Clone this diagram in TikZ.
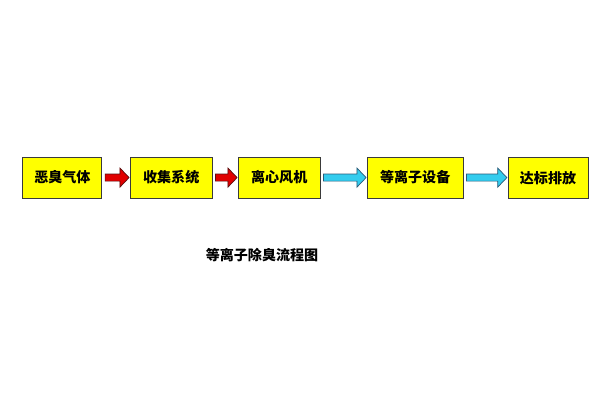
\documentclass[tikz,border=0pt]{standalone}
\usepackage{fontspec}
\usepackage{xcolor}
\usetikzlibrary{calc}
\newfontfamily\cjk{Noto Sans CJK SC}
\definecolor{FlowYellow}{HTML}{FFFF00}
\definecolor{FlowEdge}{HTML}{3A3A3A}
\definecolor{FlowRed}{HTML}{E00000}
\definecolor{FlowRedEdge}{HTML}{5A1010}
\definecolor{FlowCyan}{HTML}{33CCEE}
\definecolor{FlowCyanEdge}{HTML}{2A5A78}
\tikzset{
  stagebox/.style={draw=FlowEdge,line width=.6pt,fill=FlowYellow,minimum height=1.025cm,inner sep=0pt,font=\cjk\bfseries\fontsize{10}{12}\selectfont},
  redarrow/.style={draw=FlowRedEdge,fill=FlowRed,line width=.5pt,line join=miter},
  cyanarrow/.style={draw=FlowCyanEdge,fill=FlowCyan,line width=.5pt,line join=miter}
}
% block arrow from the east side of #1 to the west side of #2
\newcommand\flowarrow[3]{%
  \draw[#3] let \p1=(#1.east), \p2=(#2.west) in
    (\x1+2pt,\y1-2.5pt) -- (\x2-7pt,\y1-2.5pt) -- (\x2-7pt,\y1-6.8pt) -- (\x2-.5pt,\y1)
    -- (\x2-7pt,\y1+6.8pt) -- (\x2-7pt,\y1+2.5pt) -- (\x1+2pt,\y1+2.5pt) -- cycle;}

\begin{document}
\begin{tikzpicture}[x=1cm,y=1cm]
\path[use as bounding box] (0,0) rectangle (15.00,10.00);
\fill[white] (0,0) rectangle (15.00,10.00);
\node[stagebox,minimum width=1.975cm] (gas) at (1.56,5.56) {恶臭气体};
\node[stagebox,minimum width=2.05cm] (collect) at (4.28,5.56) {收集系统};
\node[stagebox,minimum width=2.05cm] (fan) at (6.98,5.56) {离心风机};
\node[stagebox,minimum width=2.40cm] (plasma) at (10.38,5.56) {等离子设备};
\node[stagebox,minimum width=2.00cm] (outlet) at (13.70,5.55) {达标排放};
\flowarrow{gas}{collect}{redarrow}
\flowarrow{collect}{fan}{redarrow}
\flowarrow{fan}{plasma}{cyanarrow}
\flowarrow{plasma}{outlet}{cyanarrow}
\node[font=\cjk\bfseries\fontsize{10}{12}\selectfont] (title) at (6.55,3.62) {等离子除臭流程图};
\end{tikzpicture}
\end{document}
